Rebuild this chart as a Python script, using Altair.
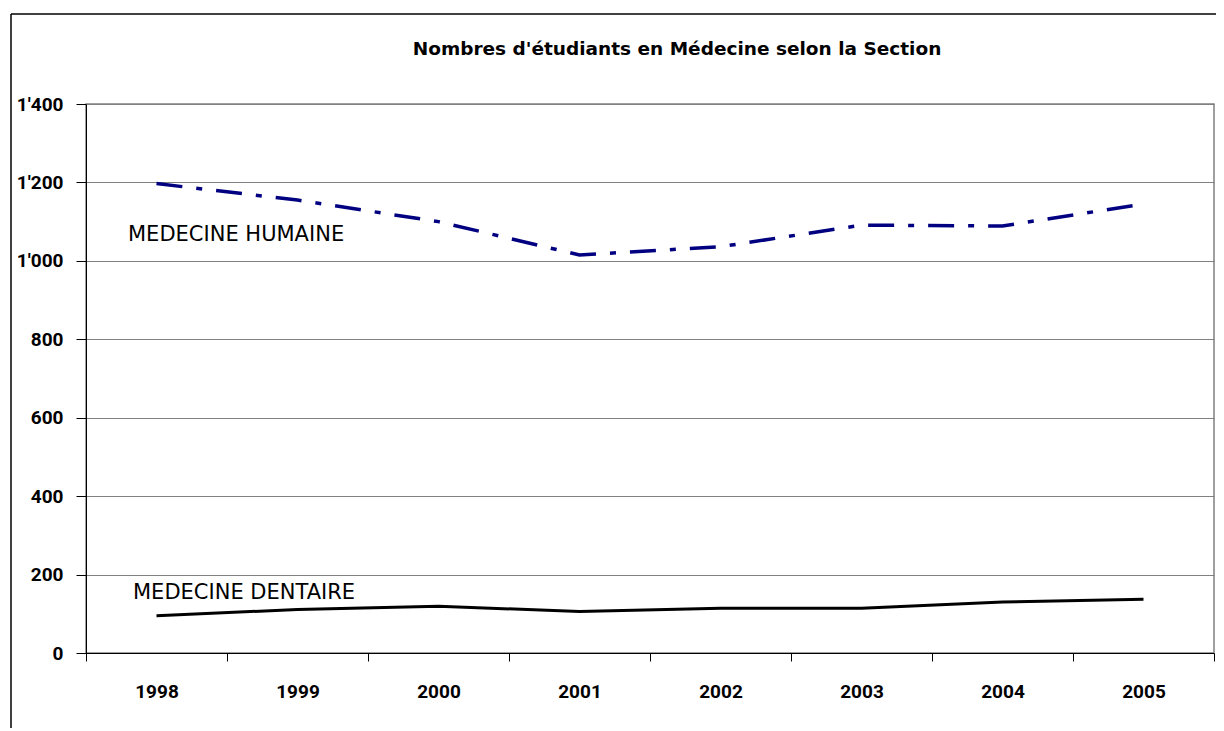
import altair as alt
import pandas as pd

years = ["1998", "1999", "2000", "2001", "2002", "2003", "2004", "2005"]
humaine = [1197, 1155, 1100, 1015, 1036, 1091, 1089, 1145]
dentaire = [95, 111, 119, 106, 114, 114, 130, 137]
sections = ["MEDECINE HUMAINE", "MEDECINE DENTAIRE"]
label_pos = [("1998", 1066), ("1998", 153)]
y_ticks = [0, 200, 400, 600, 800, 1000, 1200, 1400]

rows = []
for y, v in zip(years, humaine):
    rows.append({"year": y, "section": sections[0], "value": v})
for y, v in zip(years, dentaire):
    rows.append({"year": y, "section": sections[1], "value": v})
df = pd.DataFrame(rows)

labels_df = pd.DataFrame({
    "section": sections,
    "year": [p[0] for p in label_pos],
    "value": [p[1] for p in label_pos],
    "dx": [42, 47],
})

W, H = 1128, 549
AXFONT = "Roboto, Liberation Sans, sans-serif"

xscale = alt.Scale(type="band", domain=years, paddingInner=0, paddingOuter=0)
yscale = alt.Scale(domain=[0, 1400], nice=False)

xenc = alt.X(
    "year:O",
    bandPosition=0.5,
    scale=xscale,
    axis=alt.Axis(
        title=None, labelAngle=0, tickBand="extent", tickSize=8, tickColor="black",
        domainColor="black", labelFont=AXFONT, labelFontSize=19, labelFontWeight="bold",
        labelColor="black", labelPadding=21, grid=False,
    ),
)
yenc = alt.Y(
    "value:Q",
    scale=yscale,
    axis=alt.Axis(
        title=None, values=y_ticks, tickSize=10, tickColor="black", domainColor="black",
        gridColor="#808080", gridWidth=1, gridOpacity=1,
        labelFont=AXFONT, labelFontSize=19, labelFontWeight="bold", labelColor="black",
        labelPadding=13,
        labelExpr="replace(format(datum.value, ','), ',', \"'\")",
    ),
)

base = alt.Chart(df)

hum = base.transform_filter(alt.datum.section == sections[0]).mark_line(
    color="#000080", strokeWidth=3.5, strokeDash=[26, 14, 6, 14]
).encode(x=xenc, y=yenc)

den = base.transform_filter(alt.datum.section == sections[1]).mark_line(
    color="black", strokeWidth=3
).encode(x=xenc, y=yenc)

lbl = alt.Chart(labels_df).mark_text(
    align="left", baseline="middle", font="DejaVu Sans, sans-serif", fontSize=21,
    color="black",
).encode(
    x=alt.X("year:O", scale=xscale),
    y=alt.Y("value:Q", scale=yscale),
    text="section:N",
    xOffset=alt.XOffset("dx:Q", scale=None),
)

# outer frame (left and top edges of the surrounding box)
frame_left = alt.Chart(pd.DataFrame({"a": [0]})).mark_rule(color="black", strokeWidth=1.5).encode(
    x=alt.value(-75), y=alt.value(-90), y2=alt.value(640)
)
frame_top = alt.Chart(pd.DataFrame({"a": [0]})).mark_rule(color="black", strokeWidth=1.5).encode(
    x=alt.value(-75), x2=alt.value(1140), y=alt.value(-90)
)

chart = alt.layer(hum, den, lbl, frame_left, frame_top).properties(
    width=W,
    height=H,
    autosize=alt.AutoSizeParams(type="none"),
    padding={"left": 78, "top": 96, "right": 2, "bottom": 75},
    title=alt.TitleParams(
        "Nombres d'étudiants en Médecine selon la Section",
        font="DejaVu Sans, sans-serif", fontSize=18.5, fontWeight="bold", color="black",
        anchor="middle", dx=27, offset=-45,
    ),
).configure_view(stroke="#808080", strokeWidth=1.5)

chart.save("out.html", embed_options={"renderer": "svg", "actions": False})
